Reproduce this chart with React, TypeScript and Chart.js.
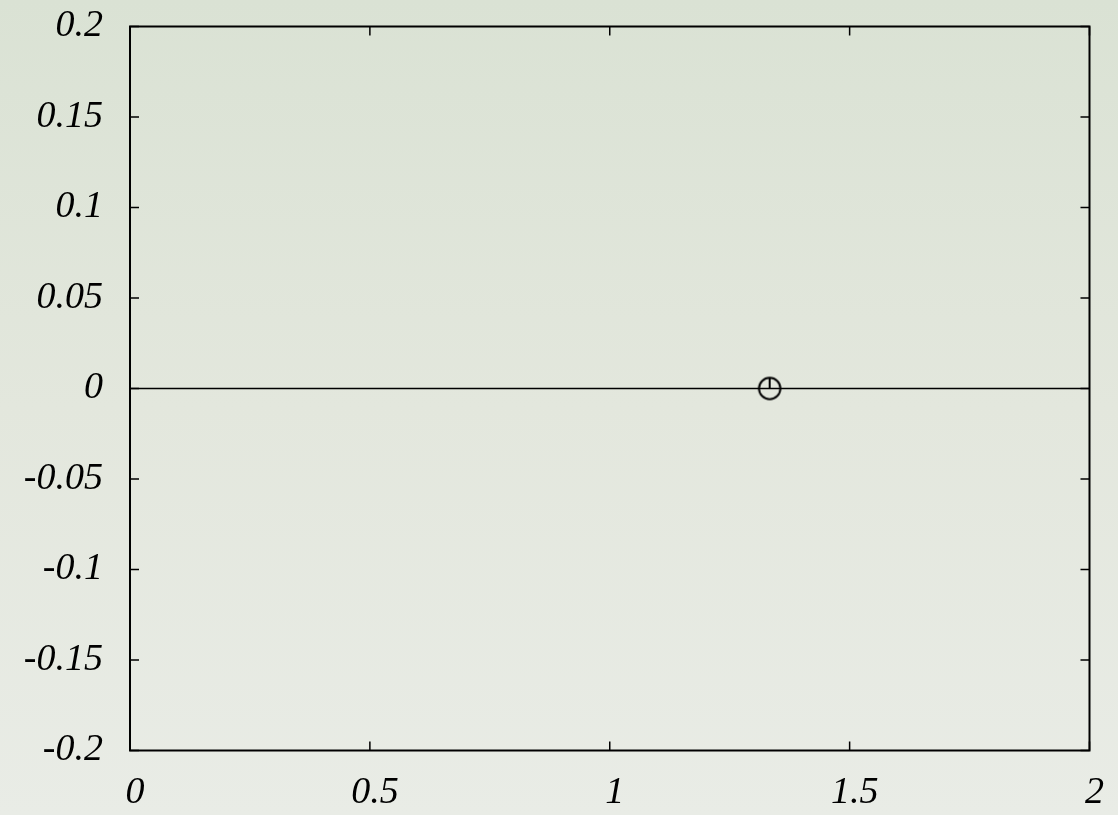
import React, { useEffect, useRef } from "react";
import { Chart, registerables } from "chart.js";

Chart.register(...registerables);

const xTicks = [0, 0.5, 1, 1.5, 2];
const yTicks = [-0.2, -0.15, -0.1, -0.05, 0, 0.05, 0.1, 0.15, 0.2];
const lineX = [0, 2];
const lineY = [0, 0];
const pointX = [4 / 3];
const pointY = [0];

function makeMarker(): HTMLCanvasElement {
  const c = document.createElement("canvas");
  c.width = 26;
  c.height = 26;
  const g = c.getContext("2d")!;
  g.strokeStyle = "#000";
  g.lineWidth = 2;
  g.beginPath();
  g.arc(13, 13, 10.7, 0, Math.PI * 2);
  g.stroke();
  g.beginPath();
  g.moveTo(13, 13);
  g.lineTo(13, 2.3);
  g.stroke();
  return c;
}

const framePlugin = {
  id: "frame",
  afterDatasetsDraw(chart: any) {
    const { ctx, chartArea: a, scales } = chart;
    ctx.save();
    ctx.strokeStyle = "#000";
    ctx.lineWidth = 1.5;
    const t = 9;
    ctx.beginPath();
    xTicks.forEach((v) => {
      const x = scales.x.getPixelForValue(v);
      ctx.moveTo(x, a.bottom);
      ctx.lineTo(x, a.bottom - t);
      ctx.moveTo(x, a.top);
      ctx.lineTo(x, a.top + t);
    });
    yTicks.forEach((v) => {
      const y = scales.y.getPixelForValue(v);
      ctx.moveTo(a.left, y);
      ctx.lineTo(a.left + t, y);
      ctx.moveTo(a.right, y);
      ctx.lineTo(a.right - t, y);
    });
    ctx.stroke();
    ctx.lineWidth = 2;
    ctx.strokeRect(a.left, a.top, a.right - a.left, a.bottom - a.top);
    ctx.restore();
  },
};

export default function App() {
  const ref = useRef<HTMLCanvasElement>(null);
  useEffect(() => {
    const font = { family: "'Liberation Serif', 'DejaVu Serif', serif", style: "italic" as const, size: 38 };
    const chart = new Chart(ref.current!, {
      type: "scatter",
      data: {
        datasets: [
          {
            type: "line",
            data: lineX.map((x, i) => ({ x, y: lineY[i] })),
            borderColor: "#000",
            borderWidth: 1.6,
            pointRadius: 0,
          },
          {
            data: pointX.map((x, i) => ({ x, y: pointY[i] })),
            pointStyle: makeMarker() as any,
            pointRadius: 13,
          },
        ],
      },
      plugins: [framePlugin],
      options: {
        animation: false,
        responsive: false,
        maintainAspectRatio: false,
        layout: { padding: { top: 26.5, right: 28.5, left: 0, bottom: 0 } },
        plugins: { legend: { display: false }, tooltip: { enabled: false } },
        scales: {
          x: {
            type: "linear",
            min: 0,
            max: 2,
            afterBuildTicks: (s: any) => {
              s.ticks = xTicks.map((v) => ({ value: v }));
            },
            afterFit: (s: any) => {
              s.height = 64.5;
              s.paddingLeft = 0;
              s.paddingRight = 0;
            },
            grid: { display: false, drawTicks: false },
            border: { display: false },
            ticks: {
              font,
              color: "#000",
              padding: 20,
              labelOffset: 5,
              maxRotation: 0,
              callback: (v: any) => String(v),
            },
          },
          y: {
            type: "linear",
            min: -0.2,
            max: 0.2,
            afterBuildTicks: (s: any) => {
              s.ticks = yTicks.map((v) => ({ value: v }));
            },
            afterFit: (s: any) => {
              s.width = 130;
              s.paddingTop = 0;
              s.paddingBottom = 0;
            },
            grid: { display: false, drawTicks: false },
            border: { display: false },
            ticks: {
              font,
              color: "#000",
              padding: 27,
              callback: (v: any) => String(Math.round(v * 100) / 100),
            },
          },
        },
      },
    });
    return () => chart.destroy();
  }, []);
  return (
    <div
      style={{
        position: "fixed",
        left: 0,
        top: 0,
        width: 1118,
        height: 815,
        background: "linear-gradient(to bottom, #dae2d4 0%, #e3e7dd 50%, #e9ece6 100%)",
      }}
    >
      <canvas ref={ref} width={1118} height={815} style={{ display: "block" }} />
    </div>
  );
}
